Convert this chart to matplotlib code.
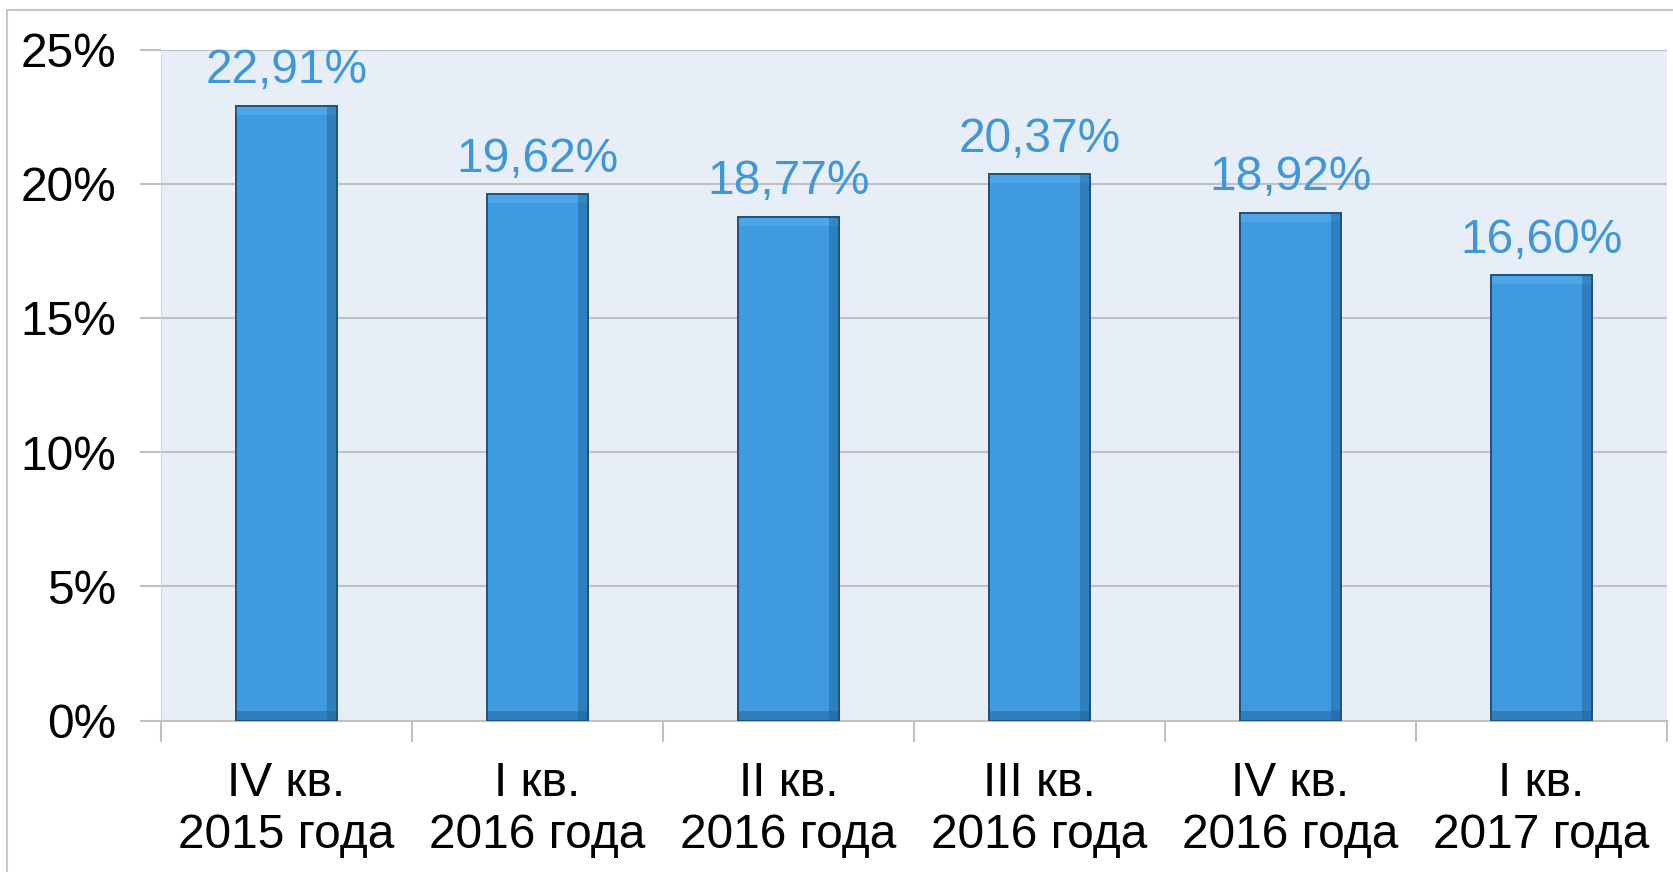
import matplotlib.pyplot as plt
import matplotlib.patches as mpatches
import numpy as np

plt.rcParams['font.family'] = ['Liberation Sans', 'DejaVu Sans']

# data
quarters = ['IV кв.\n2015 года', 'I кв.\n2016 года', 'II кв.\n2016 года',
            'III кв.\n2016 года', 'IV кв.\n2016 года', 'I кв.\n2017 года']
shares = [22.91, 19.62, 18.77, 20.37, 18.92, 16.60]
labels = ['22,91%', '19,62%', '18,77%', '20,37%', '18,92%', '16,60%']
yticks = [0, 5, 10, 15, 20, 25]

FS = 34.5

fig = plt.figure(figsize=(16.74, 8.72), dpi=100)
fig.patch.set_facecolor('white')
# light frame around the chart area
fig.patches.append(mpatches.Rectangle((7 / 1674, -0.05), 1.1, (872 - 10) / 872 + 0.05,
                                      transform=fig.transFigure, fill=False,
                                      edgecolor='#c8c8c8', lw=1.5))

ax = fig.add_axes([161 / 1674, 151.5 / 872, 1506 / 1674, 671 / 872])
ax.set_facecolor('#e8eef8')

x = np.arange(len(quarters))
w = 0.405
bars = ax.bar(x, shares, width=w, color='#3e9be2', edgecolor='#22527a',
              linewidth=1.3, zorder=3)

# bevel-like shading: light top band, darker right and bottom bands
band = 0.04
sh = np.array(shares)
ax.bar(x, 0.35, width=w, bottom=sh - 0.35, color='#5fb0ee', alpha=0.5,
       linewidth=0, zorder=4)
ax.bar(x + w / 2 - band / 2, sh, width=band, color='#1d5f96', alpha=0.45,
       linewidth=0, zorder=4)
ax.bar(x, 0.35, width=w, color='#1d5f96', alpha=0.45, linewidth=0, zorder=4)
ax.bar(x, sh, width=w, fill=False, edgecolor='#22527a', linewidth=1.3, zorder=5)

for xi, v, t in zip(x, shares, labels):
    ax.annotate(t, (xi, v), xytext=(0, 16), textcoords='offset points',
                ha='center', va='baseline', fontsize=FS, color='#3f97d8')

ax.set_xlim(-0.5, len(quarters) - 0.5)
ax.set_ylim(0, 25)

ax.set_yticks(yticks)
ax.set_yticklabels(['{}%'.format(v) for v in yticks])
ax.yaxis.grid(True, color='#c0c0c0', linewidth=1.5, zorder=0)
ax.tick_params(axis='y', length=15, width=1.5, color='#c0c0c0', pad=17,
               labelsize=FS)

ax.set_xticks(np.arange(-0.5, len(quarters), 1.0))
ax.set_xticklabels([])
ax.set_xticks(x, minor=True)
ax.set_xticklabels(quarters, minor=True, fontsize=FS, linespacing=1.2)
ax.tick_params(axis='x', which='major', length=15, width=1.5, color='#c0c0c0')
ax.tick_params(axis='x', which='minor', length=0, pad=29)

for s in ['top', 'right']:
    ax.spines[s].set_visible(False)
ax.spines['left'].set_color('#d0d8e4')
ax.spines['bottom'].set_color('#c0c0c0')
ax.spines['bottom'].set_linewidth(1.5)

fig.savefig('out.png', dpi=100)
